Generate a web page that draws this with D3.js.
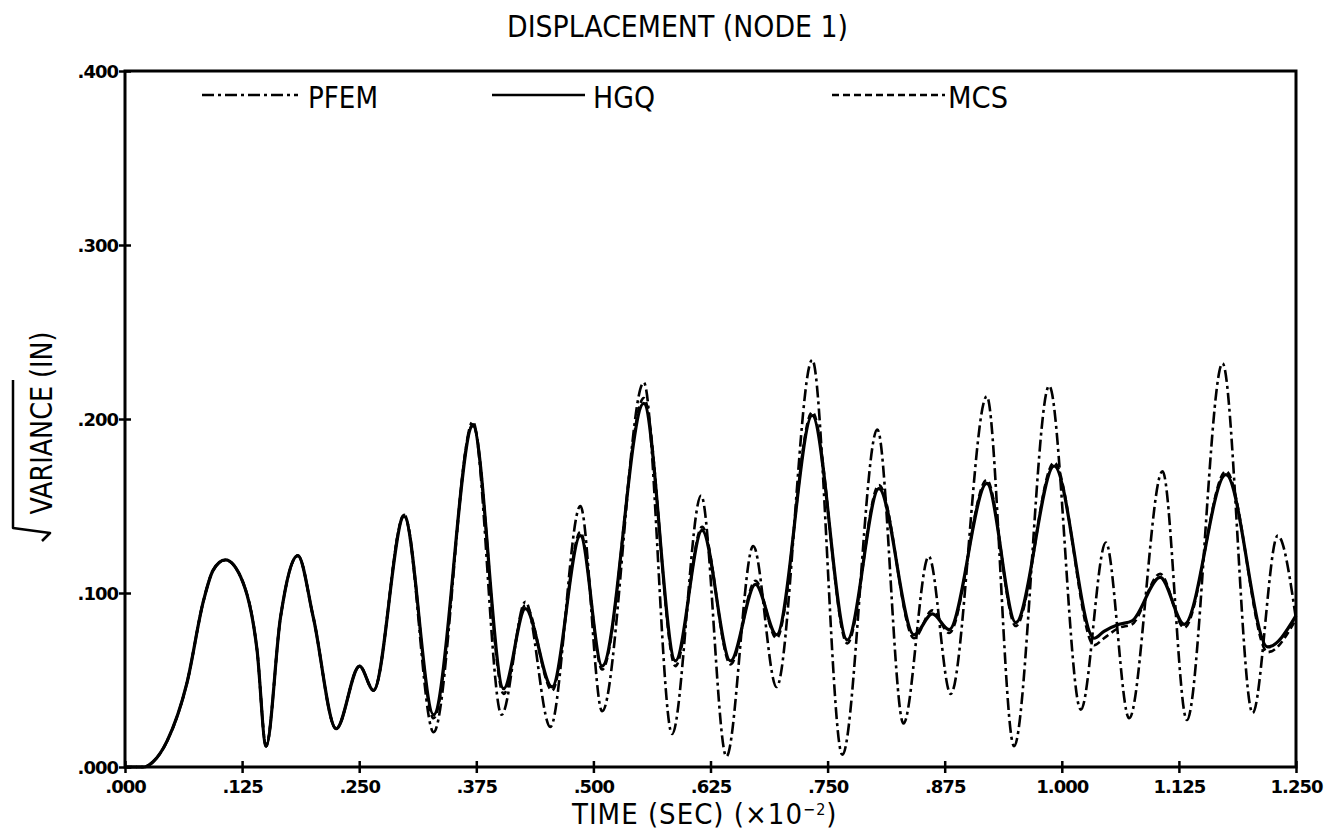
<!doctype html>
<head>
  <meta charset="utf-8">
  <script src="https://cdnjs.cloudflare.com/ajax/libs/d3/7.8.2/d3.min.js"></script>
</head>
<style>
    body { margin: 0; background: white; }
    svg { display: block; }
    .ttl { font-family: "DejaVu Sans Condensed", "DejaVu Sans", sans-serif; font-stretch: condensed; fill: black; }
    .tick text { font-family: "DejaVu Sans", sans-serif; font-weight: bold; font-size: 18px; letter-spacing: -1px; fill: black; }
</style>
<body>
<div id="chart"></div>
<script>
    // tiempos (x10^-2 s) y raiz de varianza (in)
    const timeTicks = [0, 0.125, 0.25, 0.375, 0.5, 0.625, 0.75, 0.875, 1.0, 1.125, 1.25];
    const varTicks = [0, 0.1, 0.2, 0.3, 0.4];

    const pfem = [
        [0, 0], [0.02, 0], [0.03, 0.003], [0.045, 0.015], [0.066, 0.048], [0.084, 0.096], [0.094, 0.113],
        [0.107, 0.119], [0.126, 0.106], [0.141, 0.067], [0.1506, 0.012], [0.166, 0.086], [0.1845, 0.1215],
        [0.201, 0.086], [0.2254, 0.022], [0.2504, 0.058], [0.2653, 0.044], [0.298, 0.145], [0.3294, 0.020],
        [0.3714, 0.1985], [0.402, 0.030], [0.4274, 0.095], [0.454, 0.023], [0.4861, 0.150], [0.5093, 0.032],
        [0.5538, 0.221], [0.584, 0.019], [0.615, 0.156], [0.642, 0.006], [0.6706, 0.127], [0.6955, 0.046],
        [0.7336, 0.234], [0.7657, 0.007], [0.8031, 0.194], [0.831, 0.025], [0.858, 0.121], [0.8814, 0.042],
        [0.9199, 0.213], [0.949, 0.012], [0.9865, 0.219], [1.0203, 0.033], [1.047, 0.129], [1.0719, 0.028],
        [1.1075, 0.170], [1.1335, 0.027], [1.1716, 0.232], [1.2037, 0.031], [1.2305, 0.133], [1.25, 0.085]
    ];

    const hgq = [
        [0, 0], [0.02, 0], [0.03, 0.003], [0.045, 0.015], [0.066, 0.048], [0.084, 0.096], [0.094, 0.113],
        [0.107, 0.119], [0.126, 0.106], [0.141, 0.067], [0.1506, 0.012], [0.166, 0.086], [0.1845, 0.1215],
        [0.201, 0.086], [0.2254, 0.022], [0.2504, 0.058], [0.2653, 0.044], [0.298, 0.144], [0.3294, 0.030],
        [0.3714, 0.196], [0.4042, 0.045], [0.4274, 0.091], [0.4559, 0.046], [0.4861, 0.133], [0.5093, 0.058],
        [0.5538, 0.209], [0.5876, 0.061], [0.616, 0.136], [0.6464, 0.061], [0.673, 0.105], [0.6955, 0.076],
        [0.7336, 0.202], [0.771, 0.073], [0.8048, 0.160], [0.8423, 0.076], [0.8618, 0.088], [0.8797, 0.079],
        [0.9199, 0.163], [0.9509, 0.083], [0.9918, 0.173], [1.0345, 0.074], [1.045, 0.078], [1.0612, 0.082],
        [1.075, 0.084], [1.105, 0.109], [1.1307, 0.082], [1.1752, 0.168], [1.2198, 0.069], [1.25, 0.087]
    ];

    const mcs = [
        [0, 0], [0.02, 0], [0.03, 0.003], [0.045, 0.015], [0.066, 0.048], [0.084, 0.096], [0.094, 0.113],
        [0.107, 0.119], [0.126, 0.106], [0.141, 0.067], [0.1506, 0.012], [0.166, 0.086], [0.1845, 0.1215],
        [0.201, 0.086], [0.2254, 0.022], [0.2504, 0.058], [0.2653, 0.044], [0.298, 0.145], [0.3294, 0.028],
        [0.3714, 0.197], [0.4042, 0.042], [0.4274, 0.093], [0.4559, 0.044], [0.4861, 0.135], [0.5093, 0.056],
        [0.5538, 0.212], [0.5876, 0.058], [0.616, 0.138], [0.6464, 0.059], [0.673, 0.107], [0.6955, 0.074],
        [0.7336, 0.204], [0.771, 0.071], [0.8048, 0.162], [0.8423, 0.074], [0.8618, 0.090], [0.8797, 0.077],
        [0.9199, 0.165], [0.9509, 0.081], [0.9918, 0.175], [1.0345, 0.070], [1.045, 0.074], [1.0612, 0.080],
        [1.075, 0.082], [1.105, 0.111], [1.1307, 0.080], [1.1752, 0.170], [1.2198, 0.066], [1.25, 0.085]
    ];

    const W = 1342, H = 837;
    const pLeft = 125, pRight = 1296, pTop = 71, pBottom = 767;

    const svg = d3.select('#chart').append('svg')
        .attr('width', W)
        .attr('height', H);

    svg.append('rect').attr('width', W).attr('height', H).attr('fill', 'white');

    const x = d3.scaleLinear().domain([0, 1.25]).range([pLeft, pRight]);
    const y = d3.scaleLinear().domain([0, 0.4]).range([pBottom, pTop]);

    const fmt = (d) => d3.format('.3f')(d).replace(/^0\./, '.');

    // ejes con marcas cruzadas
    const gx = svg.append('g')
        .attr('transform', `translate(0,${pBottom})`)
        .call(d3.axisBottom(x).tickValues(timeTicks).tickFormat(fmt).tickSizeOuter(0).tickPadding(0));
    gx.selectAll('.tick line').attr('y1', -6).attr('y2', 6).attr('stroke-width', 2.5);
    gx.selectAll('.tick text').attr('y', 26).attr('dy', 0);
    gx.select('.domain').remove();

    const gy = svg.append('g')
        .attr('transform', `translate(${pLeft},0)`)
        .call(d3.axisLeft(y).tickValues(varTicks).tickFormat(fmt).tickSizeOuter(0));
    gy.selectAll('.tick line').attr('x1', -6).attr('x2', 6).attr('stroke-width', 2.5);
    gy.selectAll('.tick text').attr('x', -7).attr('dy', '0.35em');
    gy.select('.domain').remove();

    // marco
    svg.append('path')
        .attr('d', `M${pLeft},${pTop}H${pRight}V${pBottom}H${pLeft}Z`)
        .attr('fill', 'none')
        .attr('stroke', 'black')
        .attr('stroke-width', 3);

    const line = d3.line()
        .x((d) => x(d[0]))
        .y((d) => y(d[1]))
        .curve(d3.curveMonotoneX);

    const series = [
        {name: 'PFEM', data: pfem, dash: '12 4 3 4', width: 2.6, lx: 202, tx: 308, tl: 70},
        {name: 'MCS', data: mcs, dash: '7 4', width: 2.6, lx: 832, tx: 948, tl: 60},
        {name: 'HGQ', data: hgq, dash: null, width: 3.2, lx: 492, tx: 593, tl: 62},
    ];

    svg.selectAll('.serie')
        .data(series)
        .enter()
        .append('path')
        .attr('class', 'serie')
        .attr('d', (d) => line(d.data))
        .attr('fill', 'none')
        .attr('stroke', 'black')
        .attr('stroke-width', (d) => d.width)
        .attr('stroke-linejoin', 'round')
        .attr('stroke-dasharray', (d) => d.dash);

    // leyenda
    const legLen = {PFEM: 96, HGQ: 93, MCS: 113};
    series.forEach((s) => {
        svg.append('line')
            .attr('x1', s.lx).attr('x2', s.lx + legLen[s.name])
            .attr('y1', 95).attr('y2', 95)
            .attr('stroke', 'black')
            .attr('stroke-width', 2.4)
            .attr('stroke-dasharray', s.dash);
        svg.append('text')
            .attr('class', 'ttl')
            .attr('x', s.tx).attr('y', 108)
            .attr('font-size', 30)
            .attr('textLength', s.tl)
            .attr('lengthAdjust', 'spacingAndGlyphs')
            .text(s.name);
    });

    // titulo
    svg.append('text')
        .attr('class', 'ttl')
        .attr('x', 507).attr('y', 37)
        .attr('font-size', 30)
        .attr('textLength', 341)
        .attr('lengthAdjust', 'spacingAndGlyphs')
        .text('DISPLACEMENT (NODE 1)');

    // titulo eje x
    const xt = svg.append('text')
        .attr('class', 'ttl')
        .attr('x', 572).attr('y', 824)
        .attr('font-size', 29)
        .attr('letter-spacing', 1);
    xt.append('tspan').text('TIME (SEC) (\u00d710');
    xt.append('tspan').attr('dy', -9).attr('font-size', 16).text('\u22122');
    xt.append('tspan').attr('dy', 9).text(')');

    // titulo eje y con raiz
    svg.append('text')
        .attr('class', 'ttl')
        .attr('transform', 'translate(52,423) rotate(-90)')
        .attr('text-anchor', 'middle')
        .attr('font-size', 30)
        .attr('textLength', 183)
        .attr('lengthAdjust', 'spacingAndGlyphs')
        .text('VARIANCE (IN)');
    svg.append('path')
        .attr('d', 'M42,541L50,533L13,528L13,380')
        .attr('fill', 'none')
        .attr('stroke', 'black')
        .attr('stroke-width', 2.5)
        .attr('stroke-linejoin', 'round');
</script>
</body>
